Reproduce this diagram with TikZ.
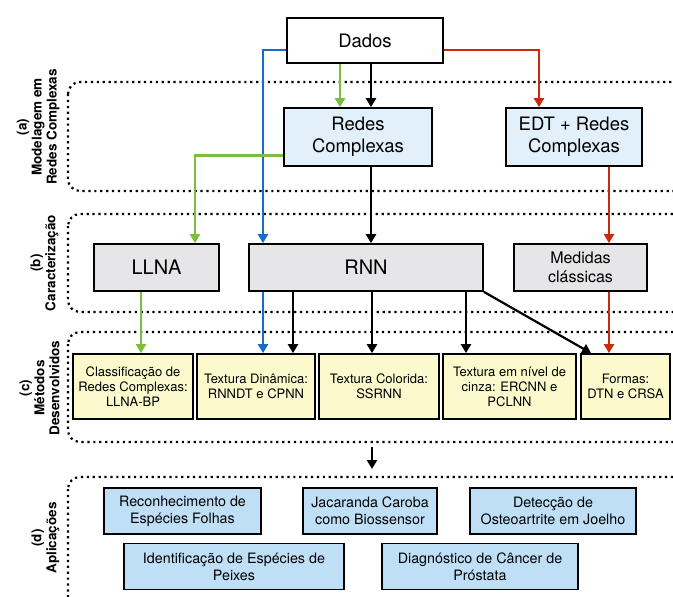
\documentclass[tikz,border=0pt]{standalone}
\usepackage{fontspec}
\setmainfont{TeX Gyre Heros}
\usepackage{tikz}
\usetikzlibrary{arrows.meta}

\definecolor{grn}{RGB}{122,190,62}
\definecolor{blu}{RGB}{22,108,200}
\definecolor{rd}{RGB}{204,40,12}
\definecolor{netblue}{RGB}{225,240,250}
\definecolor{chargray}{RGB}{230,230,232}
\definecolor{methyellow}{RGB}{252,249,205}
\definecolor{appblue}{RGB}{190,223,246}

\begin{document}
\begin{tikzpicture}[
  x=1pt,y=-1pt,
  every node/.style={font=\fontsize{13}{15}\selectfont},
  box/.style     ={draw,line width=1.7pt,align=center,inner sep=2pt},
  topbox/.style  ={box,fill=white,minimum width=156pt,minimum height=45pt,
                   font=\fontsize{18.5}{22}\selectfont},
  netbox/.style  ={box,fill=netblue,minimum height=58pt,
                   font=\fontsize{18.5}{22}\selectfont},
  charbox/.style ={box,fill=chargray,minimum height=47pt,
                   font=\fontsize{20}{22}\selectfont},
  methbox/.style ={box,fill=methyellow,minimum height=65pt},
  appbox/.style  ={box,fill=appblue,minimum height=46pt,
                   font=\fontsize{14.3}{17}\selectfont},
  region/.style  ={line width=2.2pt,dash pattern=on 2.2pt off 3.7pt,rounded corners=12pt},
  stage/.style   ={rotate=90,anchor=south,align=center,
                   font=\bfseries\fontsize{13.5}{15}\selectfont},
  fk/.style      ={-{Triangle[length=9pt,width=10pt]},line width=2.2pt,black},
  fg/.style      ={fk,grn},
  fb/.style      ={fk,blu},
  fr/.style      ={fk,rd}]

  \useasboundingbox (0,0) rectangle (673,597);
  \clip (0,0) rectangle (673,597);

  % ===== STAGE FRAMES (open to the right) =====
  \draw[region] (68, 82) rectangle (720,191);
  \draw[region] (68,214) rectangle (720,312);
  \draw[region] (68,332) rectangle (720,442);
  \draw[region] (68,477) rectangle (720,640);

  \node[stage] (lba) at (63,127) {(a)\\Modelagem em\\Redes Complexas};
  \node[stage] (lbb) at (62,263) {(b)\\Caracterização};
  \node[stage] (lbc) at (63,388) {(c)\\Métodos\\Desenvolvidos};
  \node[stage] (lbd) at (63,538) {(d)\\Aplicações};

  % ===== TOP: data and network modelling =====
  \node[topbox] (dados) at (365,40.5) {Dados};
  \node[netbox,minimum width=148pt] (redes) at (358,137) {Redes\\Complexas};
  \node[netbox,minimum width=136pt] (edt)   at (574,137) {EDT + Redes\\Complexas};

  % ===== (b) characterisation =====
  \node[charbox,minimum width=125pt] (llna)    at (156.5,267.5) {LLNA};
  \node[charbox,minimum width=234pt] (rnn)     at (366,267.5)   {RNN};
  \node[charbox,minimum width=133pt,font=\fontsize{16}{19}\selectfont]
                                     (medidas) at (580.5,267.5) {Medidas\\clássicas};

  % ===== (c) methods =====
  \node[methbox,minimum width=120pt] (clas)   at (133,386.5)
    {Classificação de\\Redes Complexas:\\LLNA-BP};
  \node[methbox,minimum width=118pt] (dinam)  at (256,386.5)
    {Textura Dinâmica:\\RNNDT e CPNN};
  \node[methbox,minimum width=120pt] (color)  at (379,386.5)
    {Textura Colorida:\\SSRNN};
  \node[methbox,minimum width=133pt] (cinza)  at (509.5,386.5)
    {Textura em nível de\\cinza: ERCNN e\\PCLNN};
  \node[methbox,minimum width=89pt]  (formas) at (625.5,386.5)
    {Formas:\\DTN e CRSA};

  % ===== (d) applications =====
  \node[appbox,minimum width=157pt] (folhas)   at (182.5,511)
    {Reconhecimento de\\Espécies Folhas};
  \node[appbox,minimum width=134pt] (jacar)    at (370,511)
    {Jacaranda Caroba\\como Biossensor};
  \node[appbox,minimum width=166pt] (osteo)    at (553,511)
    {Detecção de\\Osteoartrite em Joelho};
  \node[appbox,minimum width=220pt] (peixes)   at (234,566.5)
    {Identificação de Espécies de\\Peixes};
  \node[appbox,minimum width=196pt] (prostata) at (480,566.5)
    {Diagnóstico de Câncer de\\Próstata};

  % ===== ARROWS =====
  % out of Dados
  \draw[fb] ([yshift=-9.5pt]dados.west) -| ([xshift=-103pt]rnn.north);
  \draw[fr] ([yshift=-9.5pt]dados.east) -| ([xshift=-35pt]edt.north);
  \draw[fg] ([xshift=-25pt]dados.south) -- ([xshift=-25pt]dados.south |- redes.north);
  \draw[fk] ([xshift=6pt]dados.south)   -- ([xshift=6pt]dados.south |- redes.north);
  % modelling -> characterisation
  \draw[fg] ([yshift=-18.5pt]redes.west) -| ([xshift=38.5pt]llna.north);
  \draw[fk] ([xshift=13pt]redes.south) -- ([xshift=13pt]redes.south |- rnn.north);
  \draw[fr] ([xshift=35pt]edt.south)   -- ([xshift=35pt]edt.south |- medidas.north);
  % characterisation -> methods
  \draw[fg] ([xshift=-15.5pt]llna.south) -- ([xshift=-15.5pt]llna.south |- clas.north);
  \draw[fb] ([xshift=-103pt]rnn.south) -- ([xshift=-103pt]rnn.south |- dinam.north);
  \draw[fk] ([xshift=-73pt]rnn.south)  -- ([xshift=-73pt]rnn.south |- dinam.north);
  \draw[fk] ([xshift=6pt]rnn.south)    -- ([xshift=6pt]rnn.south |- color.north);
  \draw[fk] ([xshift=100pt]rnn.south)  -- ([xshift=100pt]rnn.south |- cinza.north);
  \draw[fk] (rnn.south east) -- ([xshift=11pt]formas.north west);
  \draw[fr] ([xshift=28.5pt]medidas.south) -- ([xshift=28.5pt]medidas.south |- formas.north);
  % methods -> applications
  \coordinate (cout) at (372,447);
  \coordinate (din)  at (372,469);
  \draw[fk] (cout) -- (din);

\end{tikzpicture}
\end{document}
